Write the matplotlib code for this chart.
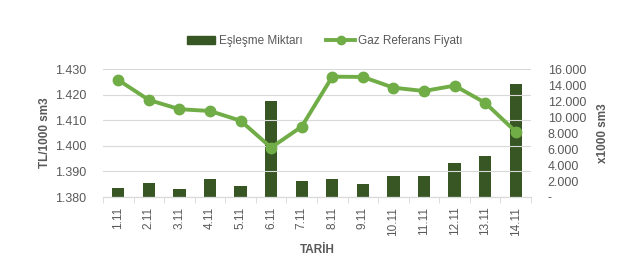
import matplotlib
matplotlib.use("Agg")
import matplotlib.pyplot as plt
from matplotlib.ticker import FuncFormatter
from matplotlib.lines import Line2D
from matplotlib.patches import Patch

dates = ["1.11", "2.11", "3.11", "4.11", "5.11", "6.11", "7.11",
         "8.11", "9.11", "10.11", "11.11", "12.11", "13.11", "14.11"]
volume = [1100, 1800, 1000, 2250, 1400, 12000, 2050,
          2300, 1650, 2650, 2650, 4300, 5175, 14175]
price = [1.4257, 1.4179, 1.4143, 1.4136, 1.4098, 1.3993, 1.4075,
         1.4270, 1.4269, 1.4227, 1.4214, 1.4235, 1.4168, 1.4055]

plt.rcParams['font.family'] = ['Liberation Sans', 'DejaVu Sans']
txt = "#595959"
bar_c = "#375623"
line_c = "#70AD47"

fig = plt.figure(figsize=(6.26, 2.63), dpi=100)
ax = fig.add_axes([103 / 626, 1 - 197 / 263, 428 / 626, 128 / 263])
ax2 = ax.twinx()

x = list(range(len(dates)))
ax2.bar(x, volume, width=0.4, color=bar_c, zorder=2)
ax2.set_ylim(0, 16000)
ax2.set_yticks(range(0, 16001, 2000))
ax2.yaxis.set_major_formatter(FuncFormatter(
    lambda v, p: "-" if v == 0 else f"{int(v):,}".replace(",", ".")))

ax.set_ylim(1.380, 1.430)
ax.set_yticks([1.380, 1.390, 1.400, 1.410, 1.420, 1.430])
ax.yaxis.set_major_formatter(FuncFormatter(lambda v, p: f"{v:.3f}"))
ax.set_xlim(-0.5, len(dates) - 0.5)
ax.grid(axis='y', color="#d9d9d9", linewidth=0.8, zorder=0)
ax.set_axisbelow(True)

ax.set_zorder(ax2.get_zorder() + 1)
ax.patch.set_visible(False)
ax.plot(x, price, color=line_c, linewidth=2.8, marker='o', markersize=7.5, zorder=5)

ax.set_xticks(x)
ax.set_xticklabels(dates, rotation=90, fontsize=8.5, color=txt)
ax.set_xticks([i + 0.5 for i in range(-1, len(dates))], minor=True)
ax.tick_params(axis='x', which='major', length=0, pad=7)
ax.tick_params(axis='x', which='minor', length=4, color="#d9d9d9")
ax.tick_params(axis='y', length=0, labelsize=9, labelcolor=txt, pad=12)
ax2.tick_params(axis='y', length=0, labelsize=9, labelcolor=txt, pad=12)

for a in (ax, ax2):
    for s in ("top", "left", "right"):
        a.spines[s].set_visible(False)
    a.spines["bottom"].set_color("#d9d9d9")

ax.set_ylabel("TL/1000 sm3", fontsize=8.5, fontweight='bold', color=txt, labelpad=3)
ax2.set_ylabel("x1000 sm3", fontsize=8.5, fontweight='bold', color=txt, labelpad=8)
ax.set_xlabel("TARİH", fontsize=8.5, fontweight='bold', color=txt, labelpad=6)

handles = [Patch(color=bar_c), Line2D([0], [0], color=line_c, linewidth=2.8,
                                      marker='o', markersize=6)]
fig.legend(handles, ["Eşleşme Miktarı", "Gaz Referans Fiyatı"],
           loc='center', bbox_to_anchor=(325 / 626, 1 - 41 / 263), ncol=2,
           frameon=False, fontsize=8.5, labelcolor=txt, handlelength=2.4,
           handleheight=0.6, columnspacing=2.0, handletextpad=0.3)

fig.savefig("out.png", dpi=100)
